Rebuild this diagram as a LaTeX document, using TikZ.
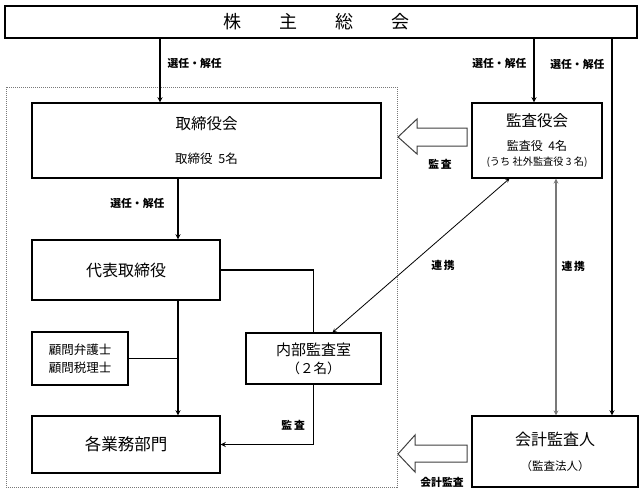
\documentclass[tikz,border=0pt]{standalone}
\usepackage{fontspec}
\setmainfont{Noto Sans CJK JP}
\usepackage{tikz}
\usetikzlibrary{arrows,positioning,calc}
\definecolor{linegray}{RGB}{120,120,120}

\begin{document}
\begin{tikzpicture}[x=1pt,y=-1pt, >=stealth, every node/.style={inner sep=0pt},
    box/.style={draw,line width=1.2pt,fill=white,align=center},
    lbl/.style={font=\bfseries\fontsize{10.8}{12}\selectfont},
    conn/.style={line width=1.3pt}]
        \useasboundingbox (0,0) rectangle (644,495);
        \draw[linegray,line width=0.8pt,dash pattern=on 1pt off 1pt] (6,87) rectangle (397,487);

        \node[box,line width=2.6pt,minimum width=632pt,minimum height=32pt,font=\fontsize{18}{20}\selectfont] (soukai) at (321,22) {株\hspace{38pt}主\hspace{38pt}総\hspace{38pt}会\hspace{10pt}};
        \node[box,minimum width=349pt,minimum height=75pt,font=\fontsize{15.5}{18}\selectfont] (torishimari) at (206.5,140.5) {取締役会\\[16pt]{\fontsize{12.5}{12}\selectfont 取締役\ \ 5名}};
        \node[box,minimum width=188pt,minimum height=60pt,font=\fontsize{16}{18}\selectfont] (daihyo) at (126,270) {代表取締役};
        \node[box,minimum width=96pt,minimum height=53pt,font=\fontsize{12.5}{12}\selectfont] (komon) at (80,358.5) {顧問弁護士\\[6.3pt]顧問税理士};
        \node[box,minimum width=188pt,minimum height=57pt,font=\fontsize{16.5}{18}\selectfont] (kakugyomu) at (126,444.5) {各業務部門};
        \node[box,minimum width=135pt,minimum height=51pt,font=\fontsize{15}{12}\selectfont] (naibu) at (313.5,358.5) {内部監査室\\[4.3pt]{\fontsize{13.5}{12}\selectfont （２名）}};
        \node[box,minimum width=130pt,minimum height=75pt,font=\fontsize{15.5}{12}\selectfont] (kansayaku) at (537,140.5) {監査役会\\[12.2pt]{\fontsize{12}{12}\selectfont 監査役\ \ 4名}\\[3pt]{\fontsize{10.2}{12}\selectfont (うち 社外監査役\ 3 名)}};
        \node[box,minimum width=166pt,minimum height=71pt,font=\fontsize{16}{12}\selectfont] (kaikei) at (555,451.5) {会計監査人\\[13pt]{\fontsize{11.5}{12}\selectfont （監査法人）}};

        \coordinate (c_tori) at (160,0);
        \coordinate (c_kansa) at (534,0);
        \coordinate (c_kaikei) at (612,0);
        \coordinate (c_daihyo) at (178,0);
        \coordinate (c_renkei) at (556,0);

        \draw[->,conn] (soukai.south -| c_tori) -- node[lbl,pos=.38,right=7pt] {選任・解任} (torishimari.north -| c_tori);
        \draw[->,conn] (soukai.south -| c_kansa) -- node[lbl,pos=.38,left=7pt] {選任・解任} (kansayaku.north -| c_kansa);
        \draw[->,conn] (soukai.south -| c_kaikei) -- node[lbl,pos=.066,left=7pt] {選任・解任} (kaikei.north -| c_kaikei);
        \draw[->,conn] (torishimari.south -| c_daihyo) -- node[lbl,pos=.4,left=13pt] {選任・解任} (daihyo.north -| c_daihyo);
        \draw[->,conn] (daihyo.south -| c_daihyo) -- (kakugyomu.north -| c_daihyo);
        \draw[conn] (komon.east) -- (komon.east -| c_daihyo);
        \draw[conn] (daihyo.east) -| (naibu.north);
        \draw[->,conn] (naibu.south) |- node[lbl,pos=.34,left=8pt] {監\,査} (kakugyomu.east);
        \draw[<->,line width=0.8pt] ($(kansayaku.south west)!.29!(kansayaku.south east)$) -- node[lbl,midway,xshift=22pt,yshift=-10pt] {連\,携} ($(naibu.north west)!.64!(naibu.north east)$);
        \draw[<->,linegray,line width=1.2pt] (kansayaku.south -| c_renkei) -- node[lbl,black,pos=.37,right=5pt] {連\,携} (kaikei.north -| c_renkei);

        \draw[black!75,line width=1pt,fill=white] (398,137) -- (417,119) -- (417,128) -- (467,128) -- (467,146) -- (417,146) -- (417,154) -- cycle;
        \node[lbl] (kansa1) at (440,164) {監\,査};
        \draw[black!75,line width=1pt,fill=white] (398,454) -- (415,435) -- (415,445) -- (467,445) -- (467,462) -- (415,462) -- (415,472) -- cycle;
        \node[lbl] (kansa2) at (442,482) {会計監査};
\end{tikzpicture}
\end{document}
